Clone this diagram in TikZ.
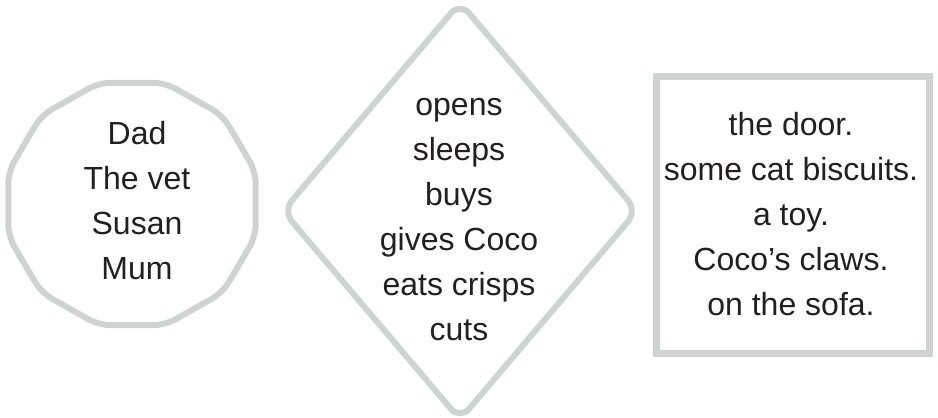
\documentclass[tikz,border=0pt]{standalone}
\usepackage{fontspec}
\setmainfont{Liberation Sans}
\definecolor{shapegray}{HTML}{D1D2D4}
\definecolor{inktext}{HTML}{231F20}
\begin{document}
\begin{tikzpicture}[x=1pt,y=1pt,
  outline/.style={draw=shapegray, line width=6pt, line join=round},
  words/.style={text=inktext, align=center, inner sep=0pt, anchor=center,
    font=\fontsize{32}{45}\selectfont}]
\useasboundingbox (0,0) rectangle (938,418);
% left dodecagon (centre 132,214 in tikz coords)
\begin{scope}[shift={(132,214)}, xscale=1.02]
  \draw[outline, rounded corners=12pt] (15:125.5) -- (45:125.5) -- (75:125.5) -- (105:125.5) -- (135:125.5) -- (165:125.5) -- (195:125.5) -- (225:125.5) -- (255:125.5) -- (285:125.5) -- (315:125.5) -- (345:125.5) -- cycle;
\end{scope}
% middle diamond
\draw[outline, rounded corners=14pt] (460,415.5) -- (637,207) -- (460,-1.5) -- (283,207) -- cycle;
% right rectangle
\draw[draw=shapegray, line width=7pt] (656.5,341.5) rectangle (929.5,64.5);
\node[words] (who) at (137,217) {Dad\\The vet\\Susan\\Mum};
\node[words] (does) at (459,198) {opens\\sleeps\\buys\\gives Coco\\eats crisps\\cuts};
\node[words] (what) at (791,204) {the door.\\some cat biscuits.\\a toy.\\Coco’s claws.\\on the sofa.};
\end{tikzpicture}
\end{document}
